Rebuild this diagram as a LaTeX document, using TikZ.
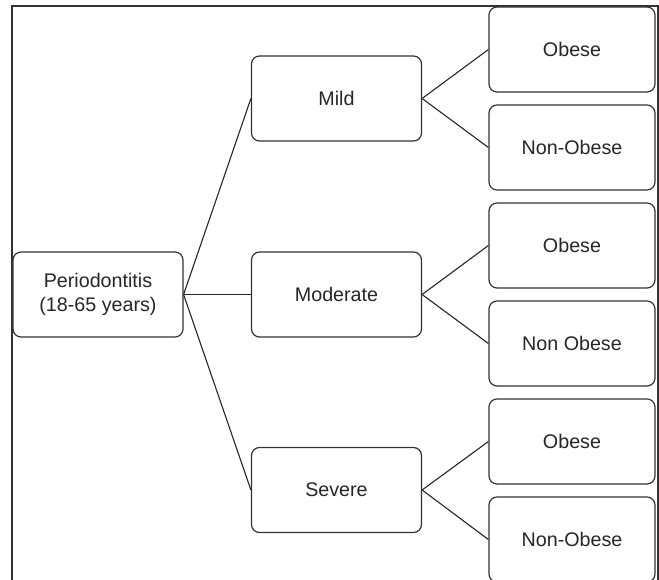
\documentclass[tikz,border=0pt]{standalone}
\usepackage{fontspec}
\setmainfont{Liberation Sans}
\begin{document}
\begin{tikzpicture}[
      x=1pt, y=-1pt,
      every node/.style={rectangle, rounded corners=8pt, draw=black!80, line width=1.2pt,
        text=black!85, align=center, font=\fontsize{19.7}{24}\selectfont},
      midbox/.style={minimum width=170pt, minimum height=85pt},
      leafbox/.style={minimum width=166pt, minimum height=85pt},
      link/.style={draw=black!85, line width=1.1pt}
      ]
      \useasboundingbox (0,0) rectangle (659,580);
      \draw[draw=black!80, line width=1.1pt] (12,590) -- (12,6) -- (658,6) -- (658,590);
      \node[midbox] (root) at (98,294.5) {Periodontitis\\(18-65 years)};
      \node[midbox] (mild) at (336.5,98.5) {Mild};
      \node[midbox] (moderate) at (336.5,294.5) {Moderate};
      \node[midbox] (severe) at (336.5,490) {Severe};
      \node[leafbox] (mildob) at (572,49.5) {Obese};
      \node[leafbox] (mildnon) at (572,147.5) {Non-Obese};
      \node[leafbox] (modob) at (572,245.5) {Obese};
      \node[leafbox] (modnon) at (572,343.5) {Non Obese};
      \node[leafbox] (sevob) at (572,441.5) {Obese};
      \node[leafbox] (sevnon) at (572,539.5) {Non-Obese};
      \foreach \m in {mild,moderate,severe}
        \path[link] (root.east) -- (\m.west);
      \foreach \m/\a/\b in {mild/mildob/mildnon, moderate/modob/modnon, severe/sevob/sevnon} {
        \path[link] (\m.east) -- (\a.west);
        \path[link] (\m.east) -- (\b.west);
      }
\end{tikzpicture}
\end{document}
